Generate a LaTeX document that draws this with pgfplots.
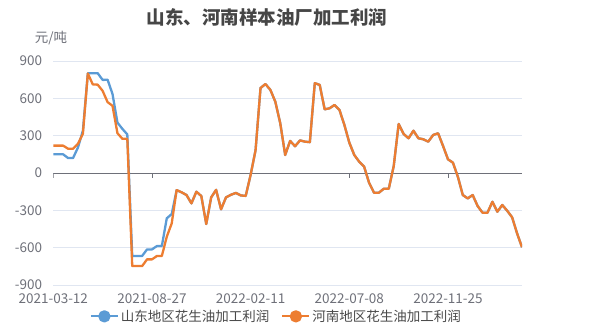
\documentclass[border=0pt]{standalone}
\usepackage{fontspec}
\setmainfont{Noto Sans CJK SC}
\usepackage{pgfplots}
\pgfplotsset{compat=1.18}
\usepackage{pgfplotstable}
\definecolor{sdblue}{HTML}{5B9BD5}
\definecolor{hnorange}{HTML}{ED7D31}
\definecolor{gridc}{HTML}{E0E6F1}
\definecolor{axisc}{HTML}{6E7079}
\definecolor{titlec}{HTML}{464646}
\definecolor{legc}{HTML}{4A4A4A}

\pgfplotstableread{
i sd hn
0 150 220
1 150 220
2 150 220
3 120 195
4 120 195
5 205 235
6 340 315
7 802 800
8 802 712
9 802 710
10 748 660
11 750 570
12 635 540
13 405 320
14 355 275
15 310 275
16 -667 -748
17 -667 -748
18 -667 -748
19 -614 -694
20 -614 -694
21 -587 -667
22 -587 -667
23 -364 -512
24 -330 -405
25 -137 -137
26 -155 -155
27 -177 -177
28 -244 -244
29 -150 -150
30 -185 -185
31 -410 -410
32 -196 -196
33 -135 -135
34 -292 -292
35 -196 -196
36 -175 -175
37 -160 -160
38 -180 -180
39 -184 -184
40 -14 -14
41 185 185
42 683 683
43 715 715
44 668 668
45 573 573
46 400 400
47 145 145
48 258 258
49 215 215
50 262 262
51 252 252
52 248 248
53 722 722
54 708 708
55 512 512
56 520 520
57 547 547
58 507 507
59 386 386
60 244 244
61 145 145
62 91 91
63 51 51
64 -78 -78
65 -158 -158
66 -158 -158
67 -126 -126
68 -126 -126
69 56 56
70 394 394
71 314 314
72 279 279
73 340 340
74 279 279
75 271 271
76 252 252
77 306 306
78 319 319
79 217 217
80 110 110
81 83 83
82 -30 -30
83 -177 -177
84 -204 -204
85 -177 -177
86 -265 -265
87 -319 -319
88 -319 -319
89 -231 -231
90 -311 -311
91 -257 -257
92 -303 -303
93 -356 -356
94 -485 -485
95 -597 -597
}\datatable

\begin{document}
\begin{tikzpicture}[x=1pt,y=1pt]
\path (0,0) rectangle (601,330);
\node[font=\fontsize{18.5}{20}\selectfont\bfseries, text=titlec] at (267,313) {山东、河南样本油厂加工利润};
\node[font=\fontsize{13.5}{15}\selectfont, text=axisc] at (51,292) {元/吨};
\begin{axis}[
  at={(53.3pt,45pt)}, anchor=south west,
  scale only axis, width=468.7pt, height=224pt,
  xmin=0, xmax=95, ymin=-900, ymax=900,
  ytick={-900,-600,-300,0,300,600,900},
  yticklabels={-900,-600,-300,0,300,600,900},
  xtick={0,20,40,60,80},
  xticklabels={2021-03-12,2021-08-27,2022-02-11,2022-07-08,2022-11-25},
  axis line style={draw=none},
  major tick length=0pt,
  ymajorgrids, grid style={gridc, line width=0.8pt},
  tick label style={font=\fontsize{13.5}{15}\selectfont, text=axisc},
  yticklabel style={anchor=east, inner sep=0pt, xshift=-11pt},
  xticklabel style={anchor=center, inner sep=0pt, yshift=-13.5pt},
  legend style={at={(0.476,-0.14)}, anchor=center, draw=none, fill=none,
    font=\fontsize{13.5}{15}\selectfont, text=legc,
    /tikz/every even column/.append style={column sep=10pt}},
  legend columns=2,
  legend image code/.code={\draw[#1, line width=2pt] (0pt,0pt) -- (27pt,0pt); \fill[#1] (13.5pt,0pt) circle (5pt);},
]
\draw[axisc, line width=0.8pt] (axis cs:0,0) -- (axis cs:95,0);
\pgfplotsinvokeforeach{0,20,40,60,80}{\draw[axisc, line width=0.8pt] (axis cs:#1,0) -- ([yshift=-5pt]axis cs:#1,0);}
\addplot[sdblue, line width=2.3pt, mark=none, line join=round] table[x=i, y=sd] {\datatable};
\addplot[hnorange, line width=2.3pt, mark=none, line join=round] table[x=i, y=hn] {\datatable};
\legend{山东地区花生油加工利润, 河南地区花生油加工利润}
\end{axis}
\end{tikzpicture}
\end{document}
